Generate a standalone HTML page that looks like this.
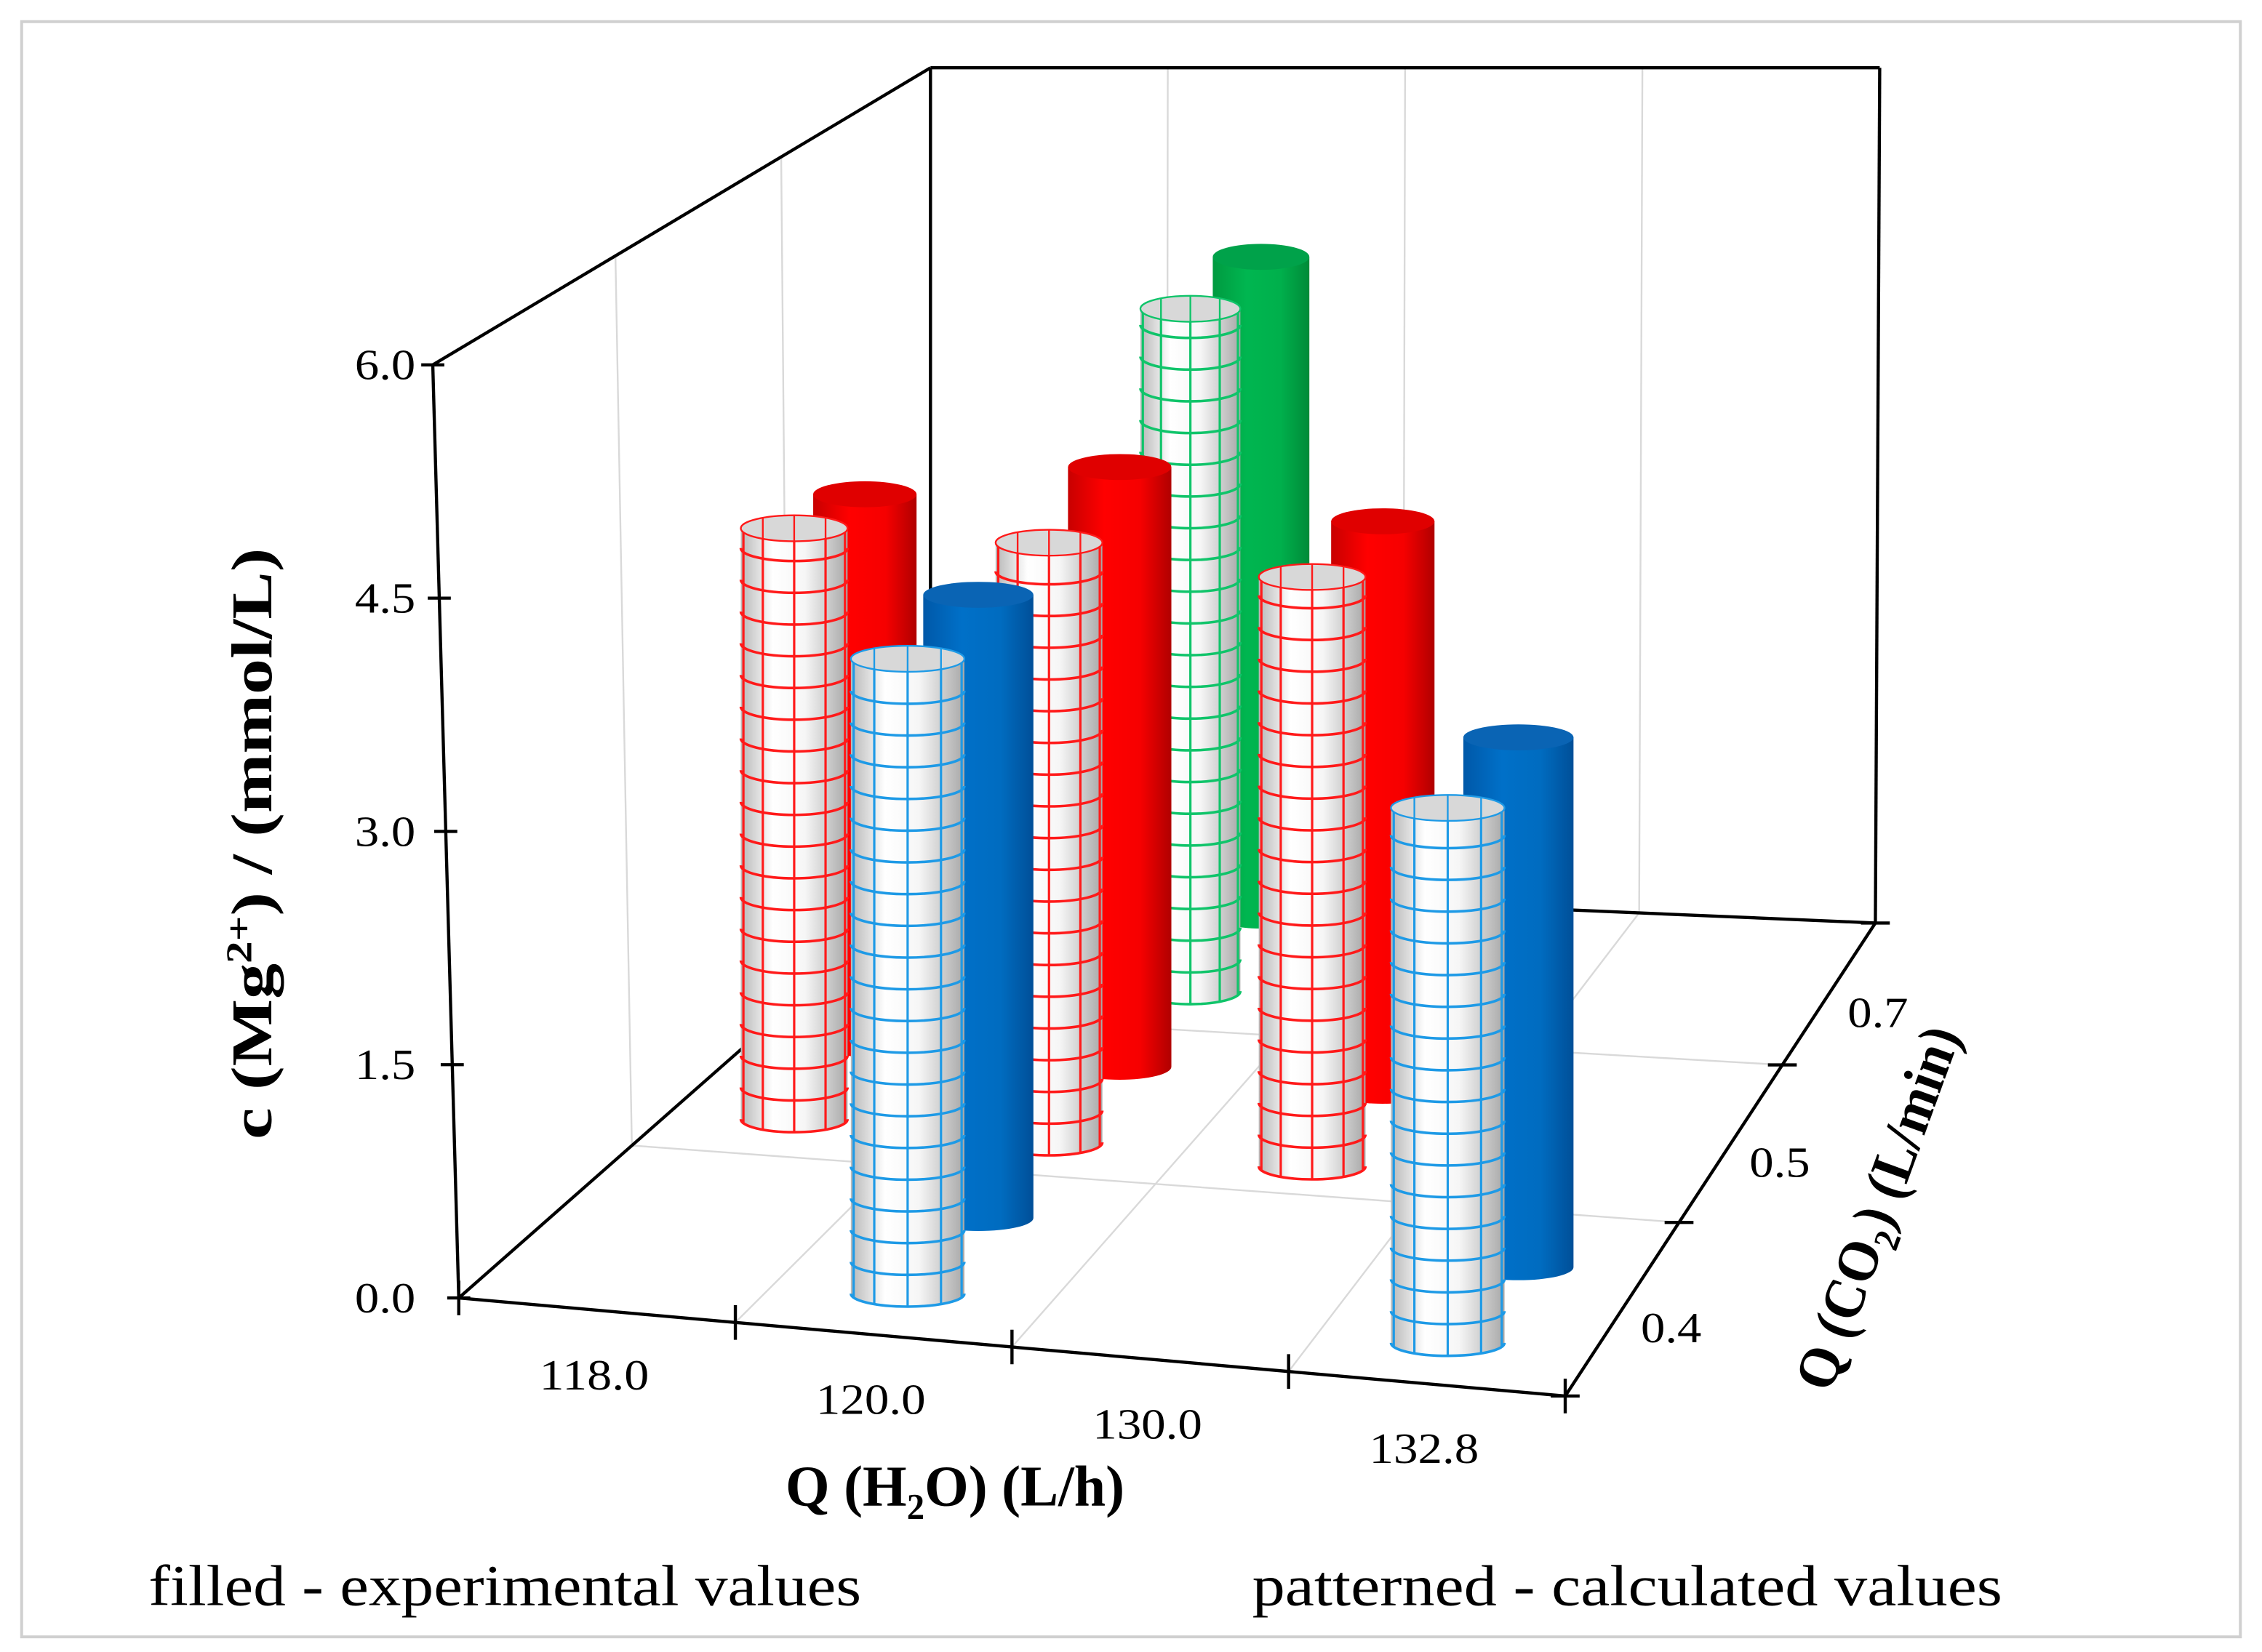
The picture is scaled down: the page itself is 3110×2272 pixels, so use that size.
<!DOCTYPE html>
<html><head><meta charset="utf-8"><style>
html,body{margin:0;padding:0;background:#fff;}
svg{display:block;}
text{font-family:"Liberation Serif",serif;}
</style></head><body>
<svg id="chart" width="3110" height="2272" viewBox="0 0 1568 1145.5" xmlns="http://www.w3.org/2000/svg">
<defs>
<linearGradient id="gRed" x1="0" x2="1"><stop offset="0" stop-color="#c80000"/><stop offset="0.35" stop-color="#ff0000"/><stop offset="0.7" stop-color="#f60000"/><stop offset="1" stop-color="#b00000"/></linearGradient>
<linearGradient id="gBlue" x1="0" x2="1"><stop offset="0" stop-color="#0058a8"/><stop offset="0.35" stop-color="#0070c8"/><stop offset="0.7" stop-color="#006cc0"/><stop offset="1" stop-color="#004f98"/></linearGradient>
<linearGradient id="gGreen" x1="0" x2="1"><stop offset="0" stop-color="#009a40"/><stop offset="0.35" stop-color="#00b650"/><stop offset="0.7" stop-color="#00b04c"/><stop offset="1" stop-color="#008a38"/></linearGradient>
<linearGradient id="gPat" x1="0" x2="1"><stop offset="0" stop-color="#b8b8b8"/><stop offset="0.3" stop-color="#ffffff"/><stop offset="0.6" stop-color="#f6f6f6"/><stop offset="1" stop-color="#a8a8a8"/></linearGradient>
</defs>
<rect x="15" y="15" width="1538" height="1120" fill="#fff" stroke="#d0d0d0" stroke-width="2"/>
<g id="grid" stroke="#d9d9d9" stroke-width="1.2"></g>
<g id="box" stroke="#000" stroke-width="2.2" fill="none"></g>
<g id="bars"></g>
<g id="labels"></g>
<text transform="translate(188,585) rotate(-90)" text-anchor="middle" font-size="40" font-weight="bold" textLength="410" lengthAdjust="spacingAndGlyphs">c (Mg<tspan dy="-14" font-size="25">2+</tspan><tspan dy="14">) / (mmol/L)</tspan></text>
<text x="662" y="1044" text-anchor="middle" font-size="40" font-weight="bold" textLength="235" lengthAdjust="spacingAndGlyphs">Q (H<tspan dy="9" font-size="25">2</tspan><tspan dy="-9">O) (L/h)</tspan></text>
<text transform="translate(1314,842) rotate(-70)" text-anchor="middle" font-size="40" font-weight="bold" textLength="265" lengthAdjust="spacingAndGlyphs">Q (CO<tspan dy="9" font-size="25">2</tspan><tspan dy="-9">) (L/min)</tspan></text>
<text x="103" y="1113" font-size="40" textLength="494" lengthAdjust="spacingAndGlyphs">filled - experimental values</text>
<text x="868" y="1113" font-size="40" textLength="520" lengthAdjust="spacingAndGlyphs">patterned - calculated values</text>
</svg>
<script>
const categories = ["118.0","120.0","130.0","132.8"];
const depthLabels = ["0.4","0.5","0.7"];
const yTicks = [0, 1.5, 3.0, 4.5, 6.0];
const barCat = [0, 0, 1, 1, 1, 1, 1, 1, 2, 2, 3, 3];
const barRow = [1, 1, 0, 0, 1, 1, 2, 2, 1, 1, 0, 0];
const barExp = [0, 1, 0, 1, 0, 1, 0, 1, 0, 1, 0, 1];
const barColor = ["red","red","blue","blue","red","red","green","green","red","red","blue","blue"];
const barValue = [4.01, 3.81, 4.13, 4.14, 4.07, 4.16, 4.84, 4.78, 4.0, 3.95, 3.48, 3.52];

const NS = "http://www.w3.org/2000/svg";
function el(tag, attrs, parent){const e=document.createElementNS(NS,tag);for(const k in attrs)e.setAttribute(k,attrs[k]);parent.appendChild(e);return e;}
const O=[318,900], EX=[192,17.5], ED=[100,-107];
function proj(u,d){return [O[0]+EX[0]*u+ED[0]*d, O[1]+EX[1]*u+ED[1]*d];}
function zScale(d){return 107.8-4.5*d;}
const FL=[318,900],FR=[1085,968],BR=[1300,640],BL=[645,612];
const TFL=[300,253],TBL=[645,47],TBR=[1303,47];
function lerp(a,b,t){return [a[0]+(b[0]-a[0])*t,a[1]+(b[1]-a[1])*t];}
const grid=document.getElementById('grid'), box=document.getElementById('box'), labels=document.getElementById('labels');
for(let i=1;i<categories.length;i++){const a=lerp(FL,FR,i/categories.length),b=lerp(BL,BR,i/categories.length);
 const l=el('line',{x1:a[0],y1:a[1],x2:b[0],y2:b[1]},grid);
 
 
 const t=lerp(TBL,TBR,i/categories.length);
 const v=el('line',{x1:b[0],y1:b[1],x2:t[0],y2:t[1]},grid);
 
 }
const rowFr=[0.367,0.70];
for(const f of rowFr){const a=lerp(FR,BR,f),b=lerp(FL,BL,f);
 const l=el('line',{x1:a[0],y1:a[1],x2:b[0],y2:b[1]},grid);
 
 
 const t=lerp(TFL,TBL,f);
 const v=el('line',{x1:b[0],y1:b[1],x2:t[0],y2:t[1]},grid);
 
 }
const lines=[[FL,FR],[FR,BR],[BR,BL],[BL,FL],[TFL,TBL],[TBL,TBR],[TFL,FL],[TBL,BL],[TBR,BR]];
for(const [a,b] of lines){const l=el('line',{x1:a[0],y1:a[1],x2:b[0],y2:b[1]},box);
 
 }
for(const v of yTicks){const p=lerp(FL,TFL,v/6);
 const t=el('line',{x1:p[0]-8,y1:p[1],x2:p[0]+8,y2:p[1]},box);
 
 
 const tx=el('text',{x:p[0]-30+(v/6)*18,y:p[1]+10,'text-anchor':'end','font-size':30,textLength:42,lengthAdjust:'spacingAndGlyphs'},labels);
 tx.textContent=v.toFixed(1);
 
 }
for(let i=0;i<=categories.length;i++){const p=lerp(FL,FR,i/categories.length);
 const t=el('line',{x1:p[0],y1:p[1]-12,x2:p[0],y2:p[1]+12},box);
 
 }
categories.forEach((c,i)=>{const p=lerp(FL,FR,(i+0.5)/categories.length);
 const tx=el('text',{x:p[0]-2,y:p[1]+55,'text-anchor':'middle','font-size':30,textLength:76,lengthAdjust:'spacingAndGlyphs'},labels);
 tx.textContent=c;
 
 });
const depthT=[0,0.367,0.70,1];
for(const f of depthT){const p=lerp(FR,BR,f);
 const t=el('line',{x1:p[0]-10,y1:p[1],x2:p[0]+10,y2:p[1]},box);
 
 }
depthLabels.forEach((c,i)=>{const p=lerp(FR,BR,(depthT[i]+depthT[i+1])/2);
 const tx=el('text',{x:p[0]+34,y:p[1]+23,'text-anchor':'middle','font-size':30,textLength:42,lengthAdjust:'spacingAndGlyphs'},labels);
 tx.textContent=c;
 
 });
const fills={red:"url(#gRed)",blue:"url(#gBlue)",green:"url(#gGreen)"};
const tops={red:"#e00000",blue:"#0a64b4",green:"#00a24a"};
const lineC={red:"#ff1a1a",blue:"#1e9ae6",green:"#10c46a"};
const idx=barValue.map((v,i)=>i);
function dOf(i){return 0.27+barRow[i]*0.98+(barExp[i]?0.49:0);}
function uOf(i){return barCat[i]+0.48+(barCat[i]===0?0.08:0)-(barCat[i]>=2?0.05:0);}
idx.sort((a,b)=>dOf(b)-dOf(a)||uOf(a)-uOf(b));
const bars=document.getElementById('bars');
for(const i of idx){
 const d=dOf(i),u=uOf(i);const [cx,cb]=proj(u,d);const ct=cb-barValue[i]*zScale(d);
 const RX=40-2.4*d, RY=9;
 const g=el('g',{},bars);
 
 
 const body=`M${cx-RX},${ct} L${cx-RX},${cb} A${RX} ${RY} 0 0 0 ${cx+RX},${cb} L${cx+RX},${ct} Z`;
 if(barExp[i]){
  el('path',{d:body,fill:fills[barColor[i]]},g);
  el('ellipse',{cx:cx,cy:ct,rx:RX,ry:RY,fill:tops[barColor[i]]},g);
 } else {
  el('path',{d:body,fill:"url(#gPat)"},g);
  const c=lineC[barColor[i]];
  for(const a of [-72,-36,0,36,72]){const x=cx+RX*Math.sin(a*Math.PI/180);
   el('line',{x1:x,y1:ct+RY*Math.cos(a*Math.PI/180),x2:x,y2:cb+RY*Math.cos(a*Math.PI/180),stroke:c,'stroke-width':1.6},g);}
  for(let y=cb;y>ct+4;y-=22){
   el('path',{d:`M${cx-RX},${y} A${RX} ${RY} 0 0 0 ${cx+RX},${y}`,fill:"none",stroke:c,'stroke-width':1.8},g);}
  el('ellipse',{cx:cx,cy:ct,rx:RX,ry:RY,fill:"#d8d8d8",stroke:c,'stroke-width':1.2},g);
  for(const a of [-36,0,36]){const x=cx+RX*Math.sin(a*Math.PI/180);
   el('line',{x1:x,y1:ct-RY*Math.cos(a*Math.PI/180),x2:x,y2:ct+RY*Math.cos(a*Math.PI/180),stroke:c,'stroke-width':1.2},g);}
 }
}
</script>
</body></html>
